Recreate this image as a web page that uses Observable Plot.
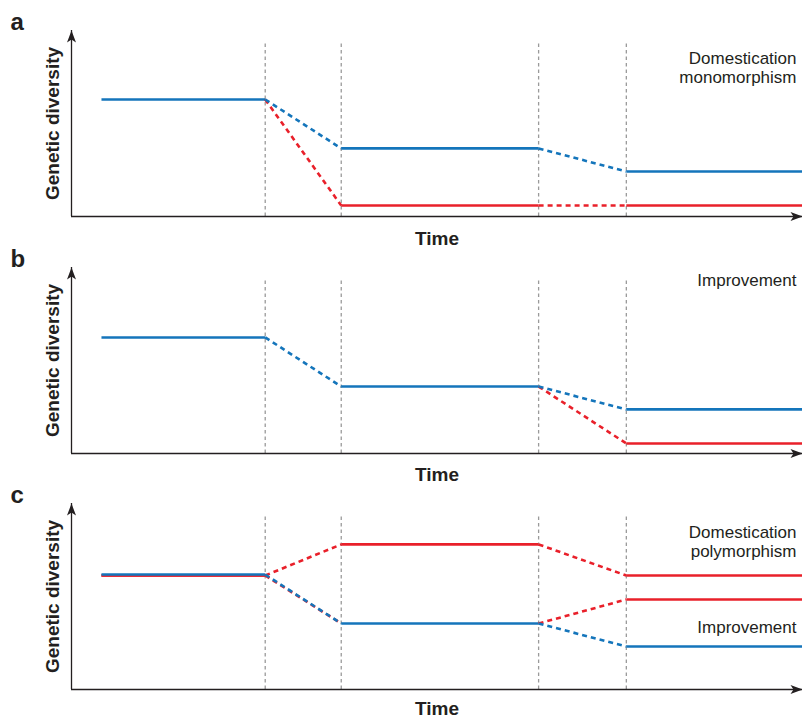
<!DOCTYPE html>
<html>
<head>
<meta charset="utf-8">
<script src="https://cdn.jsdelivr.net/npm/d3@7"></script>
<script src="https://cdn.jsdelivr.net/npm/@observablehq/plot@0.6"></script>
<style>
  html, body { margin: 0; padding: 0; background: #fff; overflow: hidden; }
  #chart svg { display: block; }
</style>
</head>
<body>
<div id="chart"></div>
<script>
// ---- Data ----
// Time boundaries (abstract time units): wild start, domestication start,
// domestication end, improvement start, improvement end, present
const stageX = [4.1, 26.5, 36.9, 63.9, 75.9, 100];
const panels = ["a", "b", "c"];
// one entry per series line (red drawn first, blue on top)
const seriesPanel = ["a", "a", "b", "b", "c", "c", "c"];
const seriesColor = ["red", "blue", "red", "blue", "red", "red", "blue"];
const wildLevel      = [62.9, 62.9, 62.4, 62.4, 61.3, 61.3, 61.8];
const landraceLevel  = [5.9, 36.6, 36.0, 36.0, 78.0, 35.5, 35.5];
const improvedLevel  = [5.9, 24.2, 5.4, 23.7, 61.3, 48.4, 23.1];
const axisLabelY = "Genetic diversity";
const axisLabelX = "Time";
const panelNotes = {
  a: ["Domestication\nmonomorphism"],
  b: ["Improvement"],
  c: ["Domestication\npolymorphism", "Improvement"]
};
const xDomain = [0, 100];
const yDomain = [0, 100];
const guideTop = 93.5;

// ---- Styling ----
const colors = {red: "#e9202a", blue: "#1475bb"};
const ink = "#231f20";

const arrowUp = {draw(ctx) { ctx.moveTo(0, 0); ctx.lineTo(-4.5, 12); ctx.lineTo(0, 9); ctx.lineTo(4.5, 12); ctx.closePath(); }};
const arrowRight = {draw(ctx) { ctx.moveTo(0, 0); ctx.lineTo(-12, -4.5); ctx.lineTo(-9, 0); ctx.lineTo(-12, 4.5); ctx.closePath(); }};

function buildSegments(panel) {
  const all = [];
  seriesPanel.forEach((p, i) => {
    if (p !== panel) return;
    const L = [wildLevel[i], landraceLevel[i], improvedLevel[i]];
    for (let k = 0; k < 5; k++) {
      all.push({x1: stageX[k], x2: stageX[k + 1], y1: L[Math.floor(k / 2)], y2: L[Math.ceil(k / 2)],
        solid: k % 2 === 0, color: seriesColor[i], c: colors[seriesColor[i]]});
    }
  });
  // a red segment lying exactly under a blue one is hidden in the figure
  const key = s => [s.x1, s.x2, s.y1, s.y2].join("|");
  const blueKeys = new Set(all.filter(s => s.color === "blue").map(key));
  const visible = all.filter(s => s.color === "blue" || !blueKeys.has(key(s)));
  return {solid: visible.filter(s => s.solid), dashed: visible.filter(s => !s.solid)};
}

const noteDy = {a: [19.5], b: [4.5], c: [20.5, 115.5]};

function makePanel(panel, height, marginTop, marginBottom, timeDy) {
  const {solid, dashed} = buildSegments(panel);
  const notes = panelNotes[panel].map((t, j) =>
    Plot.text([t], {frameAnchor: "top-right", textAnchor: "end", lineAnchor: "top",
      lineHeight: 1.12, dx: -6, dy: noteDy[panel][j], fontSize: 17, fill: ink})
  );
  return Plot.plot({
    width: 802, height, marginLeft: 71, marginRight: 0, marginTop, marginBottom,
    x: {domain: xDomain, axis: null},
    y: {domain: yDomain, axis: null},
    color: {type: "identity"},
    style: {fontFamily: "Liberation Sans, Arial, sans-serif", background: "transparent", overflow: "visible"},
    marks: [
      Plot.ruleX(stageX.slice(1, 5), {y1: yDomain[0], y2: guideTop, stroke: "#9a9a9a", strokeWidth: 1.3, strokeDasharray: "3.5,3"}),
      Plot.link(solid, {x1: "x1", y1: "y1", x2: "x2", y2: "y2", stroke: "c", strokeWidth: 2.6}),
      Plot.link(dashed, {x1: "x1", y1: "y1", x2: "x2", y2: "y2", stroke: "c", strokeWidth: 2.6, strokeDasharray: "5,4"}),
      Plot.ruleX([xDomain[0]], {stroke: ink, strokeWidth: 1.3}),
      Plot.ruleY([yDomain[0]], {stroke: ink, strokeWidth: 1.3}),
      Plot.dot([0], {x: () => xDomain[0], y: () => yDomain[1], symbol: arrowUp, fill: ink, stroke: "none"}),
      Plot.dot([0], {x: () => xDomain[1], y: () => yDomain[0], symbol: arrowRight, fill: ink, stroke: "none"}),
      Plot.text([axisLabelY], {frameAnchor: "left", textAnchor: "middle", rotate: -90, dx: -19, fontSize: 19, fontWeight: "bold", fill: ink}),
      Plot.text([axisLabelX], {frameAnchor: "bottom", lineAnchor: "top", dy: timeDy, fontSize: 19, fontWeight: "bold", fill: ink}),
      Plot.text([panel], {frameAnchor: "top-left", textAnchor: "start", lineAnchor: "top", dx: -61, dy: -18, fontSize: 24, fontWeight: "bold", fill: ink}),
      ...notes
    ]
  });
}

const root = document.getElementById("chart");
root.append(makePanel("a", 237, 30, 21, 15));
root.append(makePanel("b", 237, 30, 21, 14));
root.append(makePanel("c", 245, 29, 30, 12));
</script>
</body>
</html>
